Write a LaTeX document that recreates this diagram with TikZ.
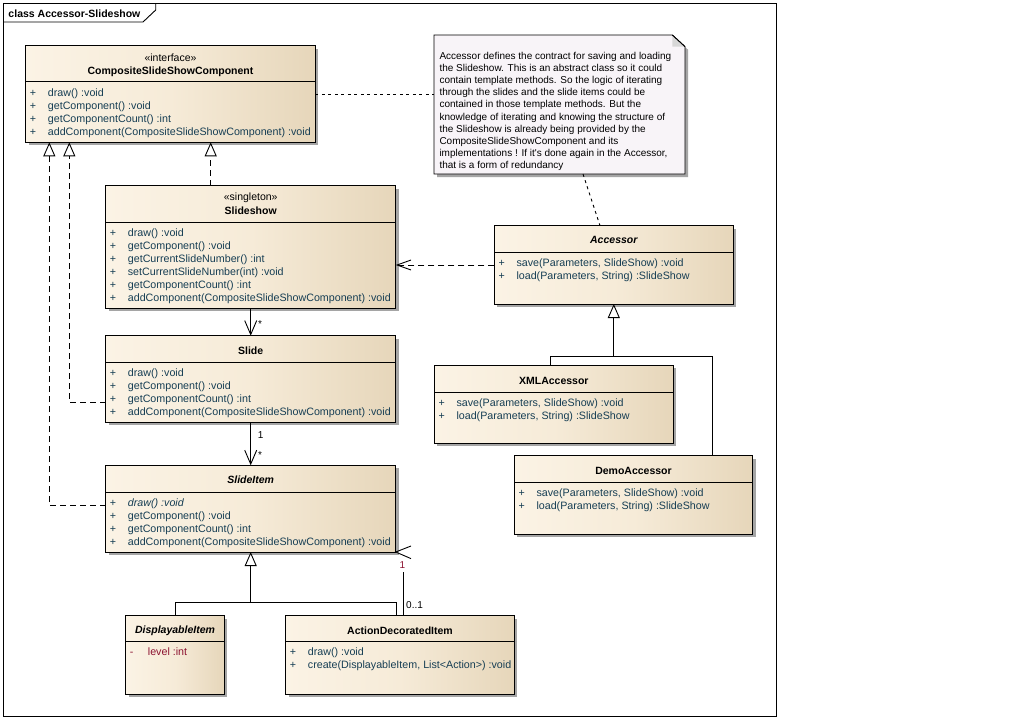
\documentclass[tikz,border=0pt]{standalone}
\usepackage{fontspec}
\setmainfont{Liberation Sans}
\usetikzlibrary{arrows.meta,shadows}

\definecolor{boxL}{RGB}{251,243,229}
\definecolor{boxM}{RGB}{246,235,216}
\definecolor{boxR}{RGB}{230,214,186}
\definecolor{opcolor}{RGB}{22,62,84}
\definecolor{attrcolor}{RGB}{140,18,48}
\definecolor{notefill}{RGB}{248,244,248}
\definecolor{foldfill}{RGB}{215,215,215}
\definecolor{shadowgray}{RGB}{165,165,165}

% class body: name, left, top, right, bottom, y of the compartment divider
\newcommand\umlclass[6]{%
  \node[umlbody, minimum width={(#4)-(#2)}, minimum height={(#5)-(#3)}] (#1) at (#2,#3) {};
  \draw[divider] (#1.west |- 0,#6) -- (#1.east |- 0,#6);}

\begin{document}
\begin{tikzpicture}[x=1pt,y=-1pt,
  umlbody/.style={draw=black, line width=0.9pt, inner sep=0pt, outer sep=0pt,
    anchor=north west, left color=boxL, right color=boxR, middle color=boxM,
    drop shadow={shadow xshift=3pt, shadow yshift=-3pt, fill=shadowgray, opacity=1}},
  divider/.style={line width=0.8pt},
  cname/.style={anchor=base, inner sep=0pt, font=\bfseries\fontsize{10.5}{13}\selectfont},
  aname/.style={anchor=base, inner sep=0pt, font=\bfseries\itshape\fontsize{10.5}{13}\selectfont},
  stereo/.style={anchor=base, inner sep=0pt, font=\fontsize{10.5}{13}\selectfont},
  ops/.style={anchor=base west, inner sep=0pt, text=opcolor, font=\fontsize{10.7}{13}\selectfont},
  attrs/.style={ops, text=attrcolor},
  mult/.style={anchor=base, inner sep=0pt, font=\fontsize{10}{12}\selectfont},
  conn/.style={line width=0.9pt},
  realize/.style={conn, dash pattern=on 6pt off 4pt, -{Triangle[length=14pt,width=12pt,fill=white]}},
  gen/.style={conn, -{Triangle[length=14pt,width=12pt,fill=white]}},
  assoc/.style={conn, -{Straight Barb[length=14pt,width=12pt]}},
  depend/.style={conn, dash pattern=on 6pt off 4pt, -{Straight Barb[length=14pt,width=10pt]}},
  notelink/.style={conn, dash pattern=on 3pt off 3.5pt},
]
\useasboundingbox (0,0) rectangle (1030,720);
\fill[white] (0,0) rectangle (1030,720);

% diagram frame with its name tab
\draw[line width=0.9pt] (3,3) rectangle (776,716);
\draw[line width=0.9pt] (3,22) -- (143,22) -- (155.7,10) -- (155.7,3);
\node[anchor=base west, inner sep=0pt, font=\bfseries\fontsize{10.5}{13}\selectfont] (frametitle) at (8.3,17) {class Accessor-Slideshow};

% CompositeSlideShowComponent
\umlclass{iface}{25.7}{45.7}{315.3}{142.3}{81.7}
\node[stereo] (iface-st) at (170.5,61.5) {«interface»};
\node[cname] (iface-nm) at (170.5,74.4) {CompositeSlideShowComponent};
\node[ops] (iface-op) at (29.7,96) {\begin{tabular}[t]{@{}p{18pt}@{}l@{}}
+ & draw() :void\\
+ & getComponent() :void\\
+ & getComponentCount() :int\\
+ & addComponent(CompositeSlideShowComponent) :void\end{tabular}};

% Slideshow
\umlclass{ss}{105.7}{185.7}{395.7}{308}{222.3}
\node[stereo] (ss-st) at (250.7,200.5) {«singleton»};
\node[cname] (ss-nm) at (250.7,214.4) {Slideshow};
\node[ops] (ss-op) at (109.7,236) {\begin{tabular}[t]{@{}p{18pt}@{}l@{}}
+ & draw() :void\\
+ & getComponent() :void\\
+ & getCurrentSlideNumber() :int\\
+ & setCurrentSlideNumber(int) :void\\
+ & getComponentCount() :int\\
+ & addComponent(CompositeSlideShowComponent) :void\end{tabular}};

% Slide
\umlclass{slide}{105.7}{335.7}{395.7}{422.3}{362.3}
\node[cname] (slide-nm) at (250.7,354.4) {Slide};
\node[ops] (slide-op) at (109.7,376) {\begin{tabular}[t]{@{}p{18pt}@{}l@{}}
+ & draw() :void\\
+ & getComponent() :void\\
+ & getComponentCount() :int\\
+ & addComponent(CompositeSlideShowComponent) :void\end{tabular}};

% SlideItem (abstract)
\umlclass{si}{105.7}{465.3}{395.7}{552}{492.3}
\node[aname] (si-nm) at (250.7,483) {SlideItem};
\node[ops] (si-op) at (109.7,506) {\begin{tabular}[t]{@{}p{18pt}@{}l@{}}
+ & \textit{draw() :void}\\
+ & getComponent() :void\\
+ & getComponentCount() :int\\
+ & addComponent(CompositeSlideShowComponent) :void\end{tabular}};

% DisplayableItem (abstract)
\umlclass{dis}{125.7}{615.7}{224.3}{694.3}{641.7}
\node[aname] (dis-nm) at (175,633.7) {DisplayableItem};
\node[attrs] (dis-at) at (129.7,655.6) {\begin{tabular}[t]{@{}p{18pt}@{}l@{}}
- & level :int\end{tabular}};

% ActionDecoratedItem
\umlclass{adi}{285.7}{615.7}{514.3}{694.3}{641.7}
\node[cname] (adi-nm) at (400,634.4) {ActionDecoratedItem};
\node[ops] (adi-op) at (289.7,655.6) {\begin{tabular}[t]{@{}p{18pt}@{}l@{}}
+ & draw() :void\\
+ & create(DisplayableItem, List<Action>) :void\end{tabular}};

% Accessor (abstract)
\umlclass{acc}{494.3}{225.7}{733.3}{304}{252.3}
\node[aname] (acc-nm) at (613.8,243.7) {Accessor};
\node[ops] (acc-op) at (498.3,266) {\begin{tabular}[t]{@{}p{18pt}@{}l@{}}
+ & save(Parameters, SlideShow) :void\\
+ & load(Parameters, String) :SlideShow\end{tabular}};

% XMLAccessor
\umlclass{xml}{434.3}{365.3}{673.3}{443.3}{392.3}
\node[cname] (xml-nm) at (553.8,384.4) {XMLAccessor};
\node[ops] (xml-op) at (438.3,406) {\begin{tabular}[t]{@{}p{18pt}@{}l@{}}
+ & save(Parameters, SlideShow) :void\\
+ & load(Parameters, String) :SlideShow\end{tabular}};

% DemoAccessor
\umlclass{demo}{514.3}{455.7}{752.7}{534}{482.3}
\node[cname] (demo-nm) at (633.5,474.4) {DemoAccessor};
\node[ops] (demo-op) at (518.3,496) {\begin{tabular}[t]{@{}p{18pt}@{}l@{}}
+ & save(Parameters, SlideShow) :void\\
+ & load(Parameters, String) :SlideShow\end{tabular}};

% note with folded corner
\fill[shadowgray] (437,38) -- (675.3,38) -- (688,49.7) -- (688,177) -- (437,177) -- cycle;
\draw[line width=0.9pt, fill=notefill] (434,35) -- (672.3,35) -- (685,46.7) -- (685,174) -- (434,174) -- cycle;
\fill[foldfill] (672.3,35.6) -- (684.4,46.7) -- (672.3,46.7) -- cycle;
\draw[line width=0.9pt] (672.3,35) -- (685,46.7);
\node[inner sep=0pt, outer sep=0pt, minimum width=251pt, minimum height=139pt, anchor=north west] (note) at (434,35) {};
\node[anchor=base west, inner sep=0pt, font=\fontsize{10}{12.1}\selectfont] (note-text) at (439.3,59.5) {\begin{tabular}[t]{@{}l@{}}
Accessor defines the contract for saving and loading\\
the Slideshow. This is an abstract class so it could\\
contain template methods. So the logic of iterating\\
through the slides and the slide items could be\\
contained in those template methods. But the\\
knowledge of iterating and knowing the structure of\\
the Slideshow is already being provided by the\\
CompositeSlideShowComponent and its\\
implementations ! If it\textquotesingle s done again in the Accessor,\\
that is a form of redundancy\end{tabular}};

% note attachments
\draw[notelink] (iface.east |- 0,94.3) -- (note.west |- 0,94.3);
\draw[notelink] (note.south -| 583,0) -- (acc.north -| 600,0);

% realizations of CompositeSlideShowComponent
\draw[realize] (ss.north -| 210.7,0) -- (iface.south -| 210.7,0);
\draw[realize] (slide.west |- 0,402.3) -| (iface.south -| 69.3,0);
\draw[realize] (si.west |- 0,505.7) -| (iface.south -| 49.3,0);

% dependency and associations
\draw[depend] (acc.west |- 0,265) -- (ss.east |- 0,265);
\draw[assoc] (ss.south) -- (slide.north);
\draw[assoc] (slide.south) -- (si.north);

% SlideItem generalization
\coordinate (sijoin) at (si.south |- 0,602.7);
\draw[gen] (dis.north -| 175.3,0) |- (sijoin) -- (si.south);
\draw[conn] (adi.north -| 396,0) |- (sijoin);

% Accessor generalization
\coordinate (accjoin) at (acc.south |- 0,356);
\draw[gen] (xml.north -| 550,0) |- (accjoin) -- (acc.south);
\draw[conn] (demo.north -| 712.7,0) |- (accjoin);

% decorator association back to SlideItem
\draw[conn] (adi.north -| 403.3,0) -- ++(0,-44);
\draw[conn] ([shift={(15.3,-6)}]si.south east) -- (si.south east) -- ([shift={(15.3,6.6)}]si.south east);

% multiplicities
\node[mult] (m-ss-slide) at (260,327.7) {*};
\node[mult] (m-slide-1) at (260.7,438) {1};
\node[mult] (m-slide-n) at (260,458.3) {*};
\node[mult, text=attrcolor] (m-si-1) at (402.3,568) {1};
\node[mult, anchor=base west] (m-adi) at (406,608) {0..1};
\end{tikzpicture}
\end{document}
